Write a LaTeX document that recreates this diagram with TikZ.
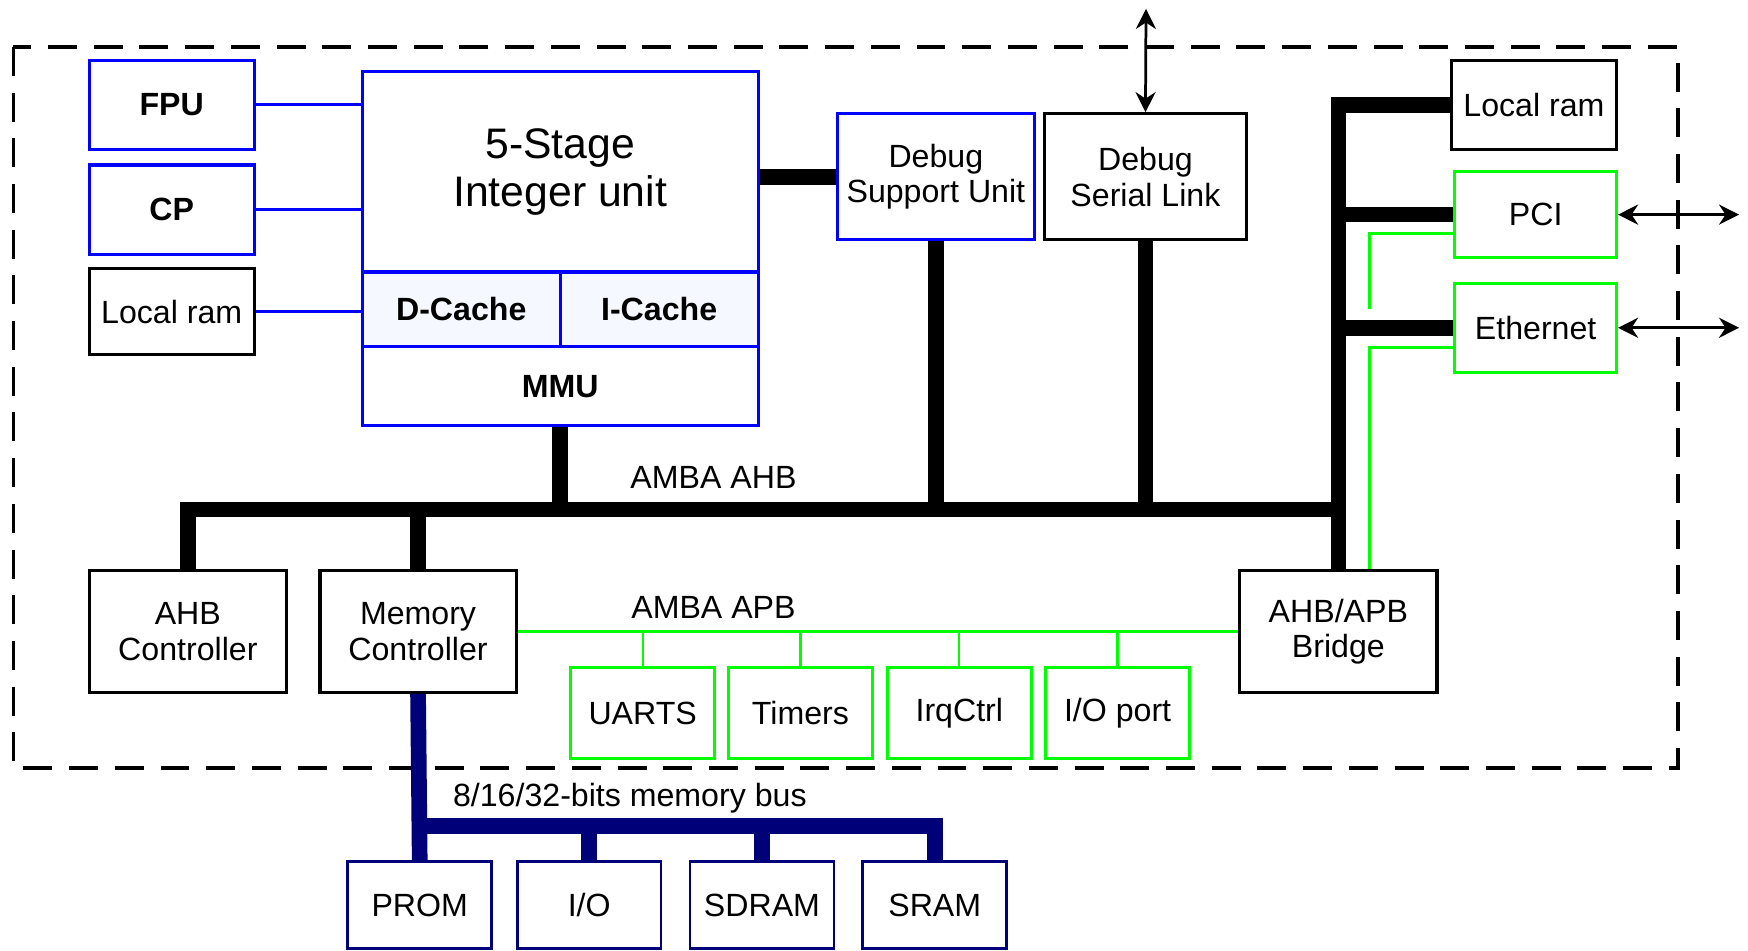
\documentclass[tikz,border=0pt]{standalone}
\usepackage{fontspec}
\setmainfont{Liberation Sans}
\usetikzlibrary{arrows.meta,calc}
\definecolor{cpublue}{RGB}{0,0,255}
\definecolor{apbgreen}{RGB}{0,255,0}
\definecolor{memnavy}{RGB}{0,0,120}
\definecolor{cachefill}{RGB}{246,248,255}
\begin{document}
\begin{tikzpicture}[
  box/.style={draw,line width=0.8pt,inner sep=0pt,align=center,font=\fontsize{8.2}{9.1}\selectfont},
  cpubox/.style={box,draw=cpublue},
  apbbox/.style={box,draw=apbgreen},
  membox/.style={box,draw=memnavy,line width=0.7pt},
  lbl/.style={inner sep=0pt,font=\fontsize{8.2}{9.1}\selectfont},
  ahbline/.style={line width=4pt},
  cpuline/.style={cpublue,line width=0.7pt},
  apbline/.style={apbgreen,line width=0.8pt},
  memline/.style={memnavy,line width=4pt},
  extlink/.style={{Stealth[length=1.8mm,width=1.8mm]}-{Stealth[length=1.8mm,width=1.8mm]},line width=0.7pt}
]
\useasboundingbox (0,0) rectangle (15.68,-8.53);
\draw[line width=0.9pt,dash pattern=on 0.26cm off 0.15cm] (0.12,-0.42) rectangle (15.05,-6.89);

\node[cpubox,minimum width=1.48cm,minimum height=0.80cm] (fpu) at (1.54,-0.94) {\bfseries FPU};
\node[cpubox,minimum width=1.48cm,minimum height=0.80cm] (cp) at (1.54,-1.88) {\bfseries CP};
\node[box,minimum width=1.48cm,minimum height=0.77cm] (lramcpu) at (1.54,-2.795) {Local ram};
\node[cpubox,minimum width=3.55cm,minimum height=1.80cm,font=\fontsize{10.9}{12.2}\selectfont] (iu) at (5.025,-1.54) {5-Stage\\Integer unit};
\node[cpubox,fill=cachefill,minimum width=1.775cm,minimum height=0.67cm] (dcache) at (4.1375,-2.775) {\bfseries D-Cache};
\node[cpubox,fill=cachefill,minimum width=1.775cm,minimum height=0.67cm] (icache) at (5.9125,-2.775) {\bfseries I-Cache};
\node[cpubox,minimum width=3.55cm,minimum height=0.71cm] (mmu) at (5.025,-3.465) {\bfseries MMU};
\node[cpubox,minimum width=1.77cm,minimum height=1.13cm] (dsu) at (8.395,-1.585) {Debug\\Support Unit};
\node[box,minimum width=1.81cm,minimum height=1.13cm] (dsl) at (10.275,-1.585) {Debug\\Serial Link};
\node[box,minimum width=1.48cm,minimum height=0.80cm] (lramahb) at (13.76,-0.94) {Local ram};
\node[apbbox,minimum width=1.45cm,minimum height=0.77cm] (pci) at (13.775,-1.925) {PCI};
\node[apbbox,minimum width=1.45cm,minimum height=0.80cm] (eth) at (13.775,-2.94) {Ethernet};

\node[box,minimum width=1.77cm,minimum height=1.09cm] (ahbctrl) at (1.685,-5.665) {AHB\\Controller};
\node[box,minimum width=1.76cm,minimum height=1.09cm] (memctrl) at (3.75,-5.665) {Memory\\Controller};
\node[box,minimum width=1.77cm,minimum height=1.09cm] (bridge) at (12.005,-5.665) {AHB/APB\\Bridge};
\node[apbbox,minimum width=1.29cm,minimum height=0.81cm] (uarts) at (5.765,-6.395) {UARTS};
\node[apbbox,minimum width=1.29cm,minimum height=0.81cm] (timers) at (7.18,-6.395) {Timers};
\node[apbbox,minimum width=1.29cm,minimum height=0.81cm] (irqctrl) at (8.605,-6.395) {IrqCtrl};
\node[apbbox,minimum width=1.29cm,minimum height=0.81cm] (ioport) at (10.025,-6.395) {I/O port};

\node[membox,minimum width=1.29cm,minimum height=0.78cm] (prom) at (3.765,-8.12) {PROM};
\node[membox,minimum width=1.29cm,minimum height=0.78cm] (io) at (5.285,-8.12) {I/O};
\node[membox,minimum width=1.29cm,minimum height=0.78cm] (sdram) at (6.835,-8.12) {SDRAM};
\node[membox,minimum width=1.29cm,minimum height=0.78cm] (sram) at (8.385,-8.12) {SRAM};

\node[lbl] (ahblabel) at (6.40,-4.28) {AMBA AHB};
\node[lbl] (apblabel) at (6.40,-5.45) {AMBA APB};
\node[lbl] (memlabel) at (5.65,-7.16) {8/16/32-bits memory bus};

\coordinate (ahbbus) at (0,-4.57);
\coordinate (mbus) at (0,-7.41);
\coordinate (dslout) at (10.28,-0.08);
\coordinate (ext) at (15.60,0);
\coordinate (apbx) at ($(bridge.north)+(0.28,0)$);

\draw[cpuline] (fpu.east) -- (fpu.east -| iu.west);
\draw[cpuline] (cp.east) -- (cp.east -| iu.west);
\draw[cpuline] (lramcpu.east) -- (lramcpu.east -| dcache.west);

\draw[apbline] (apbx) |- ($(eth.south west)!0.29!(eth.north west)$);
\draw[apbline] ($(apbx |- eth.west)+(0,0.17)$) |- ($(pci.south west)!0.29!(pci.north west)$);
\draw[apbline] (memctrl.east) -- (bridge.west);
\foreach \p in {uarts,timers,irqctrl,ioport}
  \draw[apbline,line width=0.6pt] (\p.north) -- (\p.north |- memctrl.east);

\draw[ahbline] (ahbctrl.north) -- (ahbctrl.north |- ahbbus) -- (bridge.north |- ahbbus);
\draw[ahbline] (bridge.north) |- (lramahb.west);
\draw[ahbline] (pci.west) -- (pci.west -| bridge.north);
\draw[ahbline] (eth.west) -- (eth.west -| bridge.north);
\foreach \b in {mmu.south,dsu.south,dsl.south,memctrl.north}
  \draw[ahbline] (\b) -- (\b |- ahbbus);
\draw[ahbline] (iu.east |- dsu.west) -- (dsu.west);

\draw[memline] (memctrl.south) -- (prom.north);
\draw[memline] (prom.north |- mbus) -| (sram.north);
\foreach \m in {io,sdram}
  \draw[memline] (\m.north) -- (\m.north |- mbus);

\draw[extlink] (dslout) -- (dsl.north);
\draw[extlink] (pci.east) -- (pci.east -| ext);
\draw[extlink] (eth.east) -- (eth.east -| ext);
\end{tikzpicture}
\end{document}
